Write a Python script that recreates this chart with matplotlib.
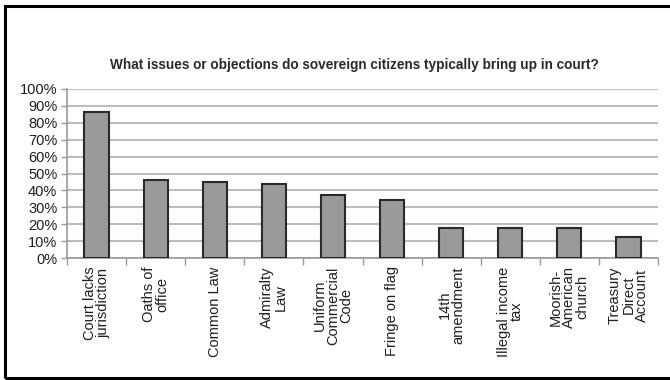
import matplotlib
matplotlib.use("Agg")
import matplotlib.pyplot as plt
import numpy as np
from matplotlib.patches import Rectangle

# Data
categories = ['Court lacks\njurisdiction', 'Oaths of\noffice', 'Common Law',
              'Admiralty\nLaw', 'Uniform\nCommercial\nCode', 'Fringe on flag',
              '14th\namendment', 'Illegal income\ntax', 'Moorish-\nAmerican\nchurch',
              'Treasury\nDirect\nAccount']
shares = [86.5, 46, 45, 43.5, 37, 34.5, 18, 18, 18, 12.5]
y_ticks = list(range(0, 101, 10))

plt.rcParams['font.family'] = ['Liberation Sans', 'DejaVu Sans']

fig = plt.figure(figsize=(6.7, 3.8), dpi=100)
ax = fig.add_axes([67/670, 1 - 258/380, (658-67)/670, (258-89)/380])

x = np.arange(len(categories))
ax.bar(x, shares, width=0.41, color='#9a9a9a', edgecolor='#2a2a2a', linewidth=1.5, zorder=3)

ax.set_xlim(-0.5, len(categories) - 0.5)
ax.set_ylim(0, 100)
ax.set_yticks(y_ticks)
ax.set_yticklabels([f'{t}%' for t in y_ticks], fontsize=10.5, color='#1e1e1e')
ax.yaxis.grid(True, color='#bdbdbd', linewidth=1.5, zorder=0)
ax.set_axisbelow(True)

ax.set_xticks(x)
ax.set_xticklabels(categories, rotation=90, fontsize=10.5, color='#1e1e1e',
                   ha='center', va='top', linespacing=0.95)
ax.set_xticks(np.arange(-0.5, len(categories)), minor=True)
ax.tick_params(axis='x', which='major', length=0, pad=6)
ax.tick_params(axis='x', which='minor', length=5, color='#9a9a9a', width=1)
ax.tick_params(axis='y', length=4, color='#9a9a9a', width=1, pad=3)

for side in ['top', 'right']:
    ax.spines[side].set_visible(False)
for side in ['left', 'bottom']:
    ax.spines[side].set_color('#9a9a9a')
    ax.spines[side].set_linewidth(1.2)

fig.text(354/670, 1 - 65/380,
         'What issues or objections do sovereign citizens typically bring up in court?',
         ha='center', va='center', fontsize=9.8, fontweight='bold', color='#2a2a2a')

# outer frame (right edge falls outside the image)
fig.patches.append(Rectangle((5/670, 2/380), 700/670, 372/380, transform=fig.transFigure,
                             fill=False, edgecolor='black', linewidth=2.2))

plt.savefig('out.png', dpi=100, facecolor='white')
